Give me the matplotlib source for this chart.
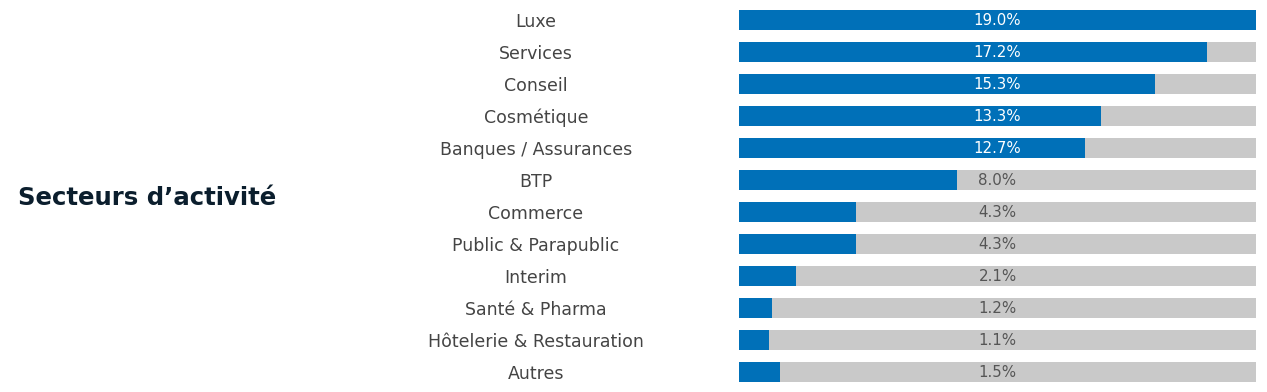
import matplotlib
matplotlib.use("Agg")
import matplotlib.pyplot as plt

categories = ["Luxe", "Services", "Conseil", "Cosmétique", "Banques / Assurances", "BTP",
              "Commerce", "Public & Parapublic", "Interim", "Santé & Pharma",
              "Hôtelerie & Restauration", "Autres"]
values = [19.0, 17.2, 15.3, 13.3, 12.7, 8.0, 4.3, 4.3, 2.1, 1.2, 1.1, 1.5]
value_labels = ["19.0%", "17.2%", "15.3%", "13.3%", "12.7%", "8.0%", "4.3%", "4.3%",
                "2.1%", "1.2%", "1.1%", "1.5%"]
track_max = 19.0
title = "Secteurs d’activité"

W, H = 1267, 392
fig = plt.figure(figsize=(W / 100, H / 100), dpi=100)
ax = fig.add_axes([739 / W, 0, (1256 - 739) / W, 1])

blue = "#0070B8"
gray = "#C9C9C9"
n = len(categories)
ys = list(range(n))
ax.barh(ys, [track_max] * n, height=0.64, color=gray, linewidth=0)
ax.barh(ys, values, height=0.64, color=blue, linewidth=0)
ax.set_xlim(0, track_max)
ax.set_ylim(11.625, -0.625)
ax.axis("off")

for y, v, lab in zip(ys, values, value_labels):
    col = "white" if v >= 10 else "#555555"
    ax.text(track_max / 2, y + 0.02, lab, ha="center", va="center", fontsize=10.8,
            color=col, family="DejaVu Sans")
    ax.text(-203 / (1256 - 739) * track_max, y + 0.05, categories[y], ha="center",
            va="center", fontsize=12.5, color="#444444", family="DejaVu Sans")

fig.text(18 / W, 1 - 198 / H, title, ha="left", va="center", fontsize=17.6,
         fontweight="bold", color="#0B1E2D", family="DejaVu Sans")

fig.savefig("out.png", dpi=100)
